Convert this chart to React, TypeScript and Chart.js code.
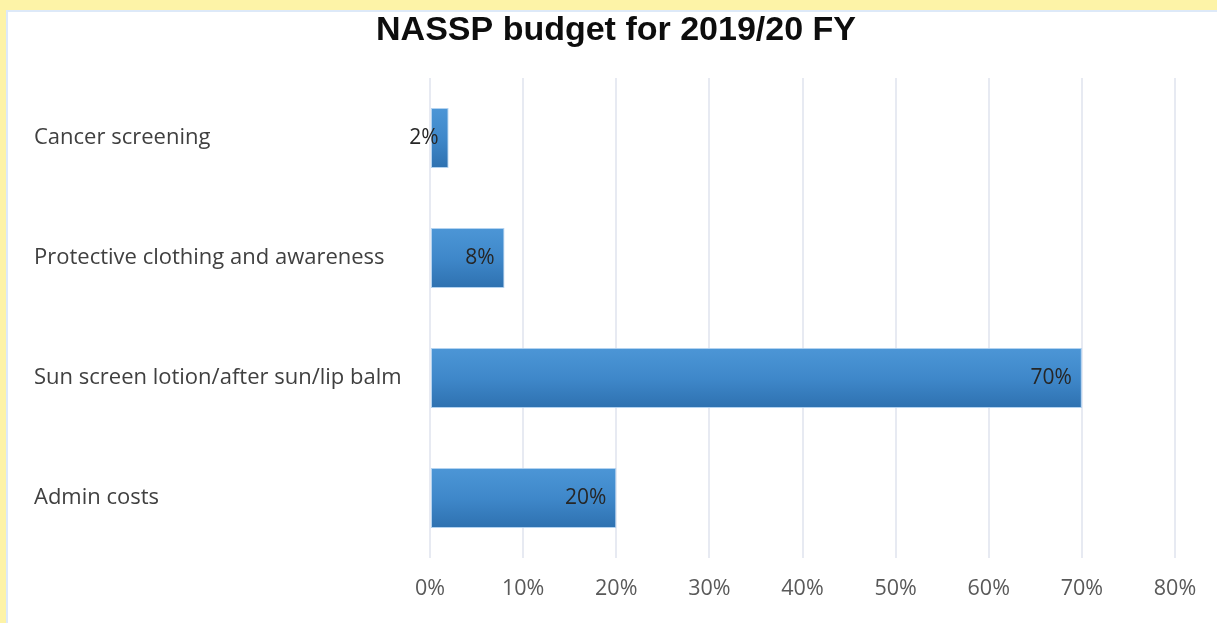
import React, { useEffect, useRef } from "react";
import { Chart, registerables } from "chart.js";

Chart.register(...registerables);

const chartTitle = "NASSP budget for 2019/20 FY";
const categories = [
  "Cancer screening",
  "Protective clothing and awareness",
  "Sun screen lotion/after sun/lip balm",
  "Admin costs",
];
const values = [2, 8, 70, 20];
const xMin = 0;
const xMax = 80;
const xStep = 10;

const W = 1217;
const H = 623;
const FONT = "Open Sans";

export default function App() {
  const ref = useRef<HTMLCanvasElement | null>(null);

  useEffect(() => {
    const canvas = ref.current;
    if (!canvas) return;

    const labelPlugin = {
      id: "labelsAndTitle",
      afterDatasetsDraw(chart: any) {
        const ctx = chart.ctx;
        const meta = chart.getDatasetMeta(0);
        ctx.save();
        ctx.font = `21px "${FONT}"`;
        ctx.fillStyle = "#262626";
        ctx.textAlign = "right";
        ctx.textBaseline = "middle";
        meta.data.forEach((bar: any, i: number) => {
          ctx.fillText(values[i] + "%", bar.x - 10, bar.y);
        });
        ctx.restore();
      },
      afterDraw(chart: any) {
        const ctx = chart.ctx;
        ctx.save();
        ctx.font = 'bold 34px "Liberation Sans"';
        ctx.fillStyle = "#0d0d0d";
        ctx.textAlign = "center";
        ctx.textBaseline = "middle";
        ctx.fillText(chartTitle, 616, 31);
        ctx.restore();
      },
    };

    const chart = new Chart(canvas, {
      type: "bar",
      data: {
        labels: categories,
        datasets: [
          {
            data: values,
            backgroundColor: (c: any) => {
              const ch = c.chart;
              const y = ch.scales && ch.scales.y;
              if (!y || c.dataIndex === undefined) return "#3f87c9";
              const center = y.getPixelForTick(c.dataIndex);
              const half = (y.height / categories.length) * 0.25;
              if (!isFinite(center) || !isFinite(half) || half <= 0) return "#3f87c9";
              const g = ch.ctx.createLinearGradient(0, center - half, 0, center + half);
              g.addColorStop(0, "#4c96d6");
              g.addColorStop(0.5, "#3f88ca");
              g.addColorStop(1, "#2e71b0");
              return g;
            },
            borderColor: "rgba(170,205,238,0.9)",
            borderWidth: 1,
            borderSkipped: false,
            barPercentage: 0.5,
            categoryPercentage: 1,
          },
        ],
      },
      options: {
        indexAxis: "y",
        responsive: false,
        animation: false,
        layout: { padding: { left: 34, right: 42, top: 78, bottom: 0 } },
        plugins: {
          legend: { display: false },
          title: { display: false },
          tooltip: { enabled: false },
        },
        scales: {
          x: {
            min: xMin,
            max: xMax,
            ticks: {
              stepSize: xStep,
              callback: (v: any) => v + "%",
              color: "#595959",
              font: { family: FONT, size: 21.5 },
              padding: 18,
              maxRotation: 0,
            },
            grid: { color: "#e7eaf2", lineWidth: 2, drawTicks: false },
            border: { display: false },
            afterFit: (s: any) => {
              s.height = 65;
            },
          },
          y: {
            ticks: {
              crossAlign: "far",
              color: "#404040",
              font: { family: FONT, size: 22 },
            },
            grid: { display: false, drawTicks: false },
            border: { display: false },
            afterFit: (s: any) => {
              s.width = 396;
            },
          },
        },
      },
      plugins: [labelPlugin],
    });
    chart.update();
    return () => chart.destroy();
  }, []);

  return (
    <div style={{ position: "fixed", left: 0, top: 0, width: W, height: H, background: "#fdf3a7", overflow: "hidden" }}>
      <div
        style={{
          position: "absolute",
          left: 6,
          top: 10,
          width: W,
          height: H,
          background: "#ffffff",
          borderLeft: "2px solid #dde9f8",
          borderTop: "2px solid #dde9f8",
        }}
      />
      <canvas ref={ref} width={W} height={H} style={{ position: "absolute", left: 0, top: 0, width: W, height: H }} />
    </div>
  );
}
